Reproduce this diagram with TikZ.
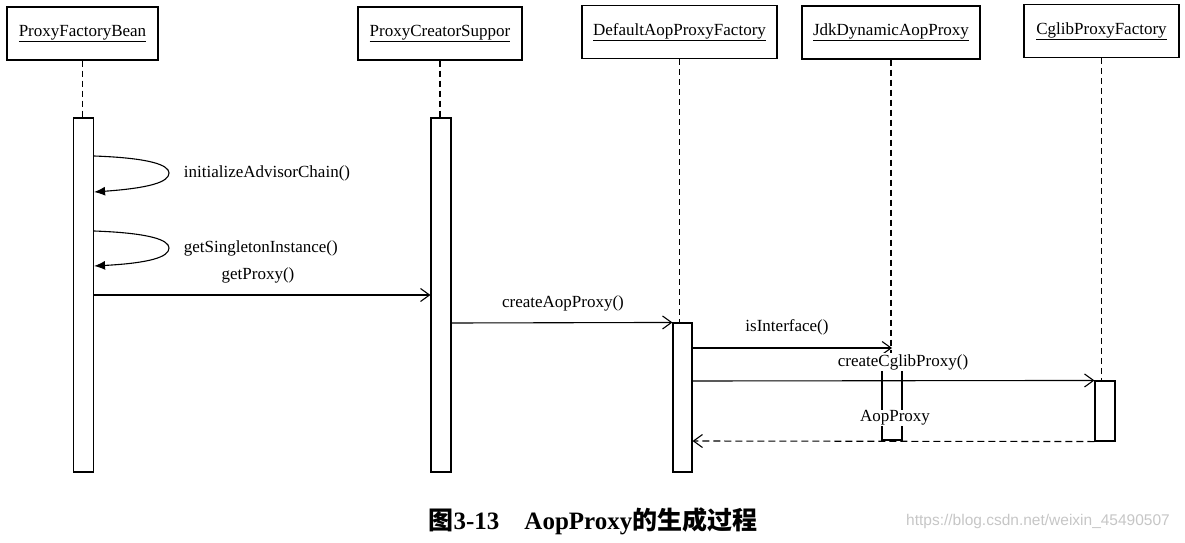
\documentclass[tikz,border=0pt]{standalone}
\usepackage{fontspec}
\setmainfont{Liberation Serif}
\newfontfamily\cjk{Noto Sans CJK SC}
\newfontfamily\wmfont{Liberation Sans}
\usetikzlibrary{arrows.meta}

\begin{document}
\begin{tikzpicture}[x=1pt,y=-1pt,
  font=\fontsize{17}{20}\selectfont, line width=1.1pt,
  obj/.style={draw,rectangle,minimum height=53pt,inner sep=0pt},
  act/.style={draw,rectangle,minimum width=20pt,inner sep=0pt,fill=white},
  life/.style={dash pattern=on 6pt off 4pt},
  msg/.style={-{Straight Barb[length=9pt,width=13pt]}},
  ret/.style={msg,dash pattern=on 7pt off 4pt},
  selfcall/.style={-{Latex[length=11pt,width=9pt]}},
  lbl/.style={fill=white,inner sep=1pt}]
\useasboundingbox (0,0) rectangle (1185,543);

% objects
\node[obj,minimum width=151pt] (pfb)  at (82.5,33.5) {\underline{ProxyFactoryBean}};
\node[obj,minimum width=164pt] (pcs)  at (440,33.5)  {\underline{ProxyCreatorSuppor}};
\node[obj,minimum width=195pt] (dapf) at (679.5,32)  {\underline{DefaultAopProxyFactory}};
\node[obj,minimum width=178pt] (jdap) at (891,32.5)  {\underline{JdkDynamicAopProxy}};
\node[obj,minimum width=155pt] (cpf)  at (1101.5,31) {\underline{CglibProxyFactory}};

% activations
\node[act,minimum height=354pt] (pfbAct) at (83.5,295) {};
\node[act,minimum height=354pt] (pcsAct) at (441,295) {};
\node[act,minimum width=19pt,minimum height=149pt] (dapfAct) at (682.5,397.5) {};
\node[act,minimum height=78pt] (jdapAct) at (892,401) {};
\node[act,minimum height=60pt] (cpfAct) at (1105,411) {};

% lifelines
\draw[life] (pfb.south) -- (pfb.south |- pfbAct.north);
\draw[life] (pcs.south) -- (pcs.south |- pcsAct.north);
\draw[life] (dapf.south) -- (dapf.south |- dapfAct.north);
\draw[life] (jdap.south) -- (jdap.south |- jdapAct.north);
\draw[life] (cpf.south) -- (cpf.south |- cpfAct.north);

% self calls
\draw[selfcall] (pfbAct.east |- 0,156) .. controls (150,158) and (169,165) .. (169,173)
  .. controls (169,182) and (150,188) .. (pfbAct.east |- 0,192);
\draw[selfcall] (pfbAct.east |- 0,231) .. controls (150,233) and (169,240) .. (169,248)
  .. controls (169,257) and (150,263) .. (pfbAct.east |- 0,266);

% messages
\draw[msg] (pfbAct.east |- 0,295) -- (pcsAct.west |- 0,295);
\draw[msg] (pcsAct.east |- 0,323) -- (dapfAct.north west);
\draw[msg] (dapfAct.east |- 0,348) -- (jdapAct.north |- 0,348);
\draw[msg] (dapfAct.east |- 0,381) -- (cpfAct.north west);
\draw[ret] (cpfAct.south west) -- (dapfAct.east |- 0,441);

% labels
\node[anchor=west] (lInit) at (180,173) {initializeAdvisorChain()};
\node[anchor=west] (lSingle) at (180,248) {getSingletonInstance()};
\node (lGetProxy) at (258,275) {getProxy()};
\node (lCreateAop) at (563,303) {createAopProxy()};
\node (lIsIf) at (787,327) {isInterface()};
\node[lbl] (lCglib) at (903,362) {createCglibProxy()};
\node[lbl] (lAop) at (895,418) {AopProxy};

% caption
\node (caption) at (593,521) {\fontsize{25}{30}\selectfont\bfseries{\cjk 图}3-13\quad AopProxy{\cjk 的生成过程}};
\node[text=gray!45,font=\wmfont\fontsize{15.5}{18}\selectfont] (wm) at (1038,521) {https://blog.csdn.net/weixin\_45490507};
\end{tikzpicture}
\end{document}
